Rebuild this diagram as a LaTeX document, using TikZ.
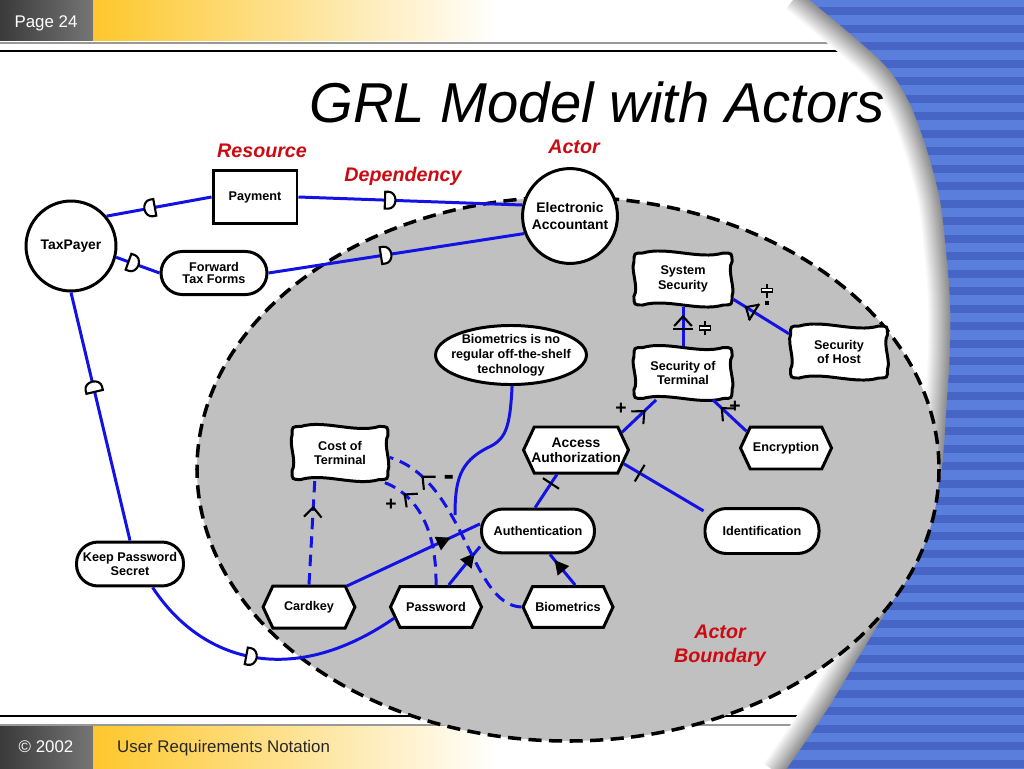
\documentclass[tikz,border=0pt]{standalone}
\usepackage{fontspec}
\setmainfont{Liberation Sans}
\usetikzlibrary{positioning, arrows.meta, shapes.geometric, shapes.symbols, decorations.markings}
\definecolor{lnkBlue}{HTML}{1212E4}
\definecolor{lblRed}{HTML}{CC0A12}
\definecolor{bndGray}{HTML}{C0C0C0}
\definecolor{stripeA}{HTML}{5A7EDC}
\definecolor{stripeB}{HTML}{4765C4}
\definecolor{barYel}{HTML}{FDC72C}
\definecolor{barDark}{HTML}{3A3A3A}
\definecolor{barGray}{HTML}{757575}
\tikzset{
  elem/.style={draw, line width=1.7pt, fill=white, inner sep=1pt, align=center,
    font=\bfseries\fontsize{7.2}{8.5}\selectfont},
  actor/.style={elem, circle, font=\bfseries\fontsize{7.9}{9.4}\selectfont},
  resrc/.style={elem, rectangle},
  goal/.style={elem, rectangle, rounded corners=12.2pt, inner xsep=0pt},
  task/.style={elem, signal, signal to=east and west, signal pointer angle=130, inner xsep=0pt},
  softgoal/.style={elem, draw=none, fill=none},
  belief/.style={elem, ellipse},
  link/.style={lnkBlue, line width=1.7pt},
  corr/.style={link, dash pattern=on 6.5pt off 4pt},
  lbl/.style={font=\bfseries\itshape\fontsize{11.2}{13.6}\selectfont, text=lblRed, align=center},
  sign/.style={font=\bfseries\fontsize{11}{11}\selectfont, inner sep=0pt},
  barb at/.style={postaction={decorate, decoration={markings, mark=at position #1 with
    {\arrow[black, solid]{Straight Barb[length=5.5pt, width=10pt, line width=1.2pt]}}}}},
  tri at/.style={postaction={decorate, decoration={markings, mark=at position #1 with
    {\arrow[black, solid]{Triangle[length=8pt, width=8pt]}}}}},
  bar at/.style={postaction={decorate, decoration={markings, mark=at position #1 with
    {\draw[black, solid, line width=1.2pt] (0pt,-5.5pt) -- (0pt,5.5pt);}}}},
  dep at/.style={postaction={decorate, decoration={markings, mark=at position #1 with
    {\draw[black, solid, line width=1.2pt, fill=white] (-3pt,-4.8pt) -- (-3pt,4.8pt) -- (-1pt,4.8pt)
      arc[start angle=90, end angle=-90, x radius=4pt, y radius=4.8pt] -- cycle;}}}},
  revdep at/.style={postaction={decorate, decoration={markings, mark=at position #1 with
    {\draw[black, solid, line width=1.2pt, fill=white] (3pt,-4.8pt) -- (3pt,4.8pt) -- (1pt,4.8pt)
      arc[start angle=90, end angle=270, x radius=4pt, y radius=4.8pt] -- cycle;}}}},
  pics/cloudbox/.style 2 args={code={
    \draw[line width=1.7pt, fill=white]
      ({-#1pt+5pt},{#2pt}) .. controls ({-#1pt/3},{#2pt+4pt}) and ({#1pt/3},{#2pt-4pt}) .. ({#1pt-5pt},{#2pt})
      .. controls ({#1pt},{#2pt}) .. ({#1pt},{#2pt-5pt})
      .. controls ({#1pt-3pt},{#2pt/3}) and ({#1pt+2pt},{-#2pt/3}) .. ({#1pt},{-#2pt+5pt})
      .. controls ({#1pt},{-#2pt}) .. ({#1pt-5pt},{-#2pt})
      .. controls ({#1pt/3},{-#2pt-4pt}) and ({-#1pt/3},{-#2pt+4pt}) .. ({-#1pt+5pt},{-#2pt})
      .. controls ({-#1pt},{-#2pt}) .. ({-#1pt},{-#2pt+5pt})
      .. controls ({-#1pt+3pt},{-#2pt/3}) and ({-#1pt-2pt},{#2pt/3}) .. ({-#1pt},{#2pt-5pt})
      .. controls ({-#1pt},{#2pt}) .. ({-#1pt+5pt},{#2pt}) -- cycle;}},
  pics/someplus/.style={code={
    \draw[line width=1.1pt] (0pt,-4pt) -- (0pt,4pt);
    \draw[line width=0.8pt, fill=white] (-3.1pt,-1.1pt) rectangle (3.1pt,1.1pt);}},
  pics/someplusdot/.style={code={
    \draw[line width=1.1pt] (0pt,-1pt) -- (0pt,7pt);
    \draw[line width=0.8pt, fill=white] (-3.1pt,2.2pt) rectangle (3.1pt,4.4pt);
    \fill (-1pt,-5pt) rectangle (1pt,-3pt);}},
}
\begin{document}
\begin{tikzpicture}[x=0.02cm, y=-0.02cm]
\useasboundingbox (0,0) rectangle (1024,768);
% slide backdrop
\fill[white] (0,0) rectangle (1024,768);
\shade[left color=barDark, right color=barGray] (0,0) rectangle (93,40);
\shade[left color=barYel, right color=white] (93,0) rectangle (500,40);
\shade[left color=barDark, right color=barGray] (0,726) rectangle (93,768);
\shade[left color=barYel, right color=white] (93,726) rectangle (500,768);
\draw[black!40, line width=0.9pt] (0,43) -- (832,43);
\draw[black, line width=0.9pt] (0,51) -- (856,51);
\draw[black, line width=0.9pt] (0,716) -- (818,716);
\draw[black!40, line width=0.9pt] (0,725) -- (815,725);
\foreach \i [evaluate=\i as \c using int(2*\i)] in {1,...,22}
  \draw[line width={(46-2*\i)*0.569pt}, black!\c] plot[smooth] coordinates {(800,-8) (880,60) (908,100) (927,150) (940,200) (946,250) (950,300) (950,350) (947,400) (940,480) (916,560) (887,610) (857,660) (827,710) (782,776)};
\fill[stripeA] plot[smooth] coordinates {(800,-8) (880,60) (908,100) (927,150) (940,200) (946,250) (950,300) (950,350) (947,400) (940,480) (916,560) (887,610) (857,660) (827,710) (782,776)} -- (1030,776) -- (1030,-8) -- cycle;
\begin{scope}
  \clip plot[smooth] coordinates {(800,-8) (880,60) (908,100) (927,150) (940,200) (946,250) (950,300) (950,350) (947,400) (940,480) (916,560) (887,610) (857,660) (827,710) (782,776)} -- (1030,776) -- (1030,-8) -- cycle;
  \foreach \k in {0,...,44}
    \fill[stripeB] (770,\k*17.5+7) rectangle (1030,\k*17.5+15);
\end{scope}
\node[text=white, font=\fontsize{9.6}{11}\selectfont, anchor=base] (pagenum) at (46,27) {Page 24};
\node[text=white, font=\fontsize{9.6}{11}\selectfont, anchor=base] (copyr) at (46,752) {© 2002};
\node[text=black!85, font=\fontsize{9.6}{11}\selectfont, anchor=base west] (urn) at (111,752) {User Requirements Notation};
\node[font=\itshape\fontsize{32}{38}\selectfont, anchor=base] (title) at (597,122) {GRL Model with Actors};
% actor boundary
\draw[black, line width=2pt, fill=bndGray, dash pattern=on 7.5pt off 4.2pt] (568,469) ellipse [x radius=371, y radius=272];
% intentional elements
\node[actor, minimum size=51.2pt] (taxpayer) at (71,246) {TaxPayer};
\node[resrc, minimum width=47.8pt, minimum height=30.7pt] (payment) at (255,197) {Payment};
\node[goal, minimum width=60.3pt, minimum height=24.5pt, font=\bfseries\fontsize{7.2}{6.6}\selectfont] (fwdforms) at (214,273) {Forward\\Tax Forms};
\node[actor, minimum size=54pt] (eacc) at (570,216) {Electronic\\Accountant};
\pic at (683,279) {cloudbox={27.9}{14.8}};
\node[softgoal, minimum width=55.8pt, minimum height=29.6pt] (syssec) at (683,279) {System\\Security};
\pic at (839,352) {cloudbox={27.6}{14.8}};
\node[softgoal, minimum width=55.2pt, minimum height=29.6pt] (hostsec) at (839,352) {Security\\of Host};
\pic at (683,373) {cloudbox={27.9}{14.5}};
\node[softgoal, minimum width=55.8pt, minimum height=29pt] (termsec) at (683,373) {Security of\\Terminal};
\node[belief, minimum width=85.9pt, minimum height=33.6pt, inner xsep=-5pt, inner ysep=-1pt] (belief) at (511,355) {Biometrics is no\\regular off-the-shelf\\technology};
\pic at (340,453) {cloudbox={27.3}{15.1}};
\node[softgoal, minimum width=54.6pt, minimum height=30.2pt] (costterm) at (340,453) {Cost of\\Terminal};
\node[task, minimum width=59.7pt, minimum height=26.2pt, inner xsep=-1.7pt, font=\bfseries\fontsize{7.9}{8.5}\selectfont] (accauth) at (576,450) {Access\\Authorization};
\node[task, minimum width=51.8pt, minimum height=23.9pt] (encrypt) at (786,448) {Encryption};
\node[goal, minimum width=64.9pt, minimum height=25.6pt] (ident) at (762,531) {Identification};
\node[goal, minimum width=64.3pt, minimum height=25pt] (authent) at (538,531) {Authentication};
\node[goal, minimum width=60.9pt, minimum height=25pt, font=\bfseries\fontsize{7.2}{6.1}\selectfont] (keeppw) at (130,564) {Keep Password\\Secret};
\node[task, minimum width=52.3pt, minimum height=23.9pt] (cardkey) at (309,607) {Cardkey};
\node[task, minimum width=51.8pt, minimum height=23.3pt] (password) at (436,607) {Password};
\node[task, minimum width=51.2pt, minimum height=23.3pt] (biometric) at (568,607) {Biometrics};
% dependencies
\draw[link, revdep at=0.41] (taxpayer.40) -- (payment.west);
\draw[link, dep at=0.41] (payment.east) -- (eacc.167);
\draw[link, dep at=0.40] (taxpayer.-14) -- (fwdforms.west);
\draw[link, dep at=0.46] (fwdforms.east) -- (eacc.201);
\draw[link, revdep at=0.38] (taxpayer.south) -- (keeppw.north);
\draw[link, dep at=0.45] (keeppw.-46) .. controls (200,660) and (290,690) .. (password.195);
% contributions and decompositions
\draw[link, bar at=0.43, barb at=0.79] (termsec.north) -- (syssec.south);
\pic at (705,328) {someplus};
\draw[link, bar at=0.63, barb at=0.80] (hostsec.160) -- (syssec.-22);
\pic at (767,296) {someplusdot};
\draw[link, barb at=0.69] (accauth.21) -- (termsec.-135);
\node[sign] (plusA) at (621,409) {+};
\draw[link, barb at=0.77] (encrypt.157) -- (termsec.-42);
\node[sign] (plusE) at (735,407) {+};
\draw[link, bar at=0.73] (authent.97) -- (accauth.-128);
\draw[link, bar at=0.80] (ident.161) -- (accauth.-16);
\draw[link, tri at=0.82] (biometric.72) -- (authent.-63);
\draw[link, tri at=0.83] (password.60) -- (authent.195);
\draw[link, tri at=0.78] (cardkey.29) -- (authent.173);
% correlations
\draw[corr, barb at=0.76] (cardkey.north) -- (costterm.-132);
\draw[corr, barb at=0.79] (password.north) .. controls (437,520) and (410,490) .. (costterm.-35);
\node[sign] (plusP) at (391,505) {+};
\draw[corr, barb at=0.82] (biometric.west) .. controls (470,605) and (465,480) .. (costterm.-5);
\node[sign, font=\bfseries\fontsize{18}{18}\selectfont] (minusB) at (449,480) {-};
\coordinate (beliefend) at (455,515);
\draw[link] (belief.-88) .. controls (510,430) and (505,440) .. (487,448) .. controls (460,462) and (455,480) .. (beliefend);
% callouts
\node[lbl] (lblres) at (262,151) {Resource};
\node[lbl] (lbldep) at (403,176) {Dependency};
\node[lbl] (lblact) at (574,147) {Actor};
\node[lbl] (lblbnd) at (720,646) {Actor\\Boundary};
\end{tikzpicture}
\end{document}
